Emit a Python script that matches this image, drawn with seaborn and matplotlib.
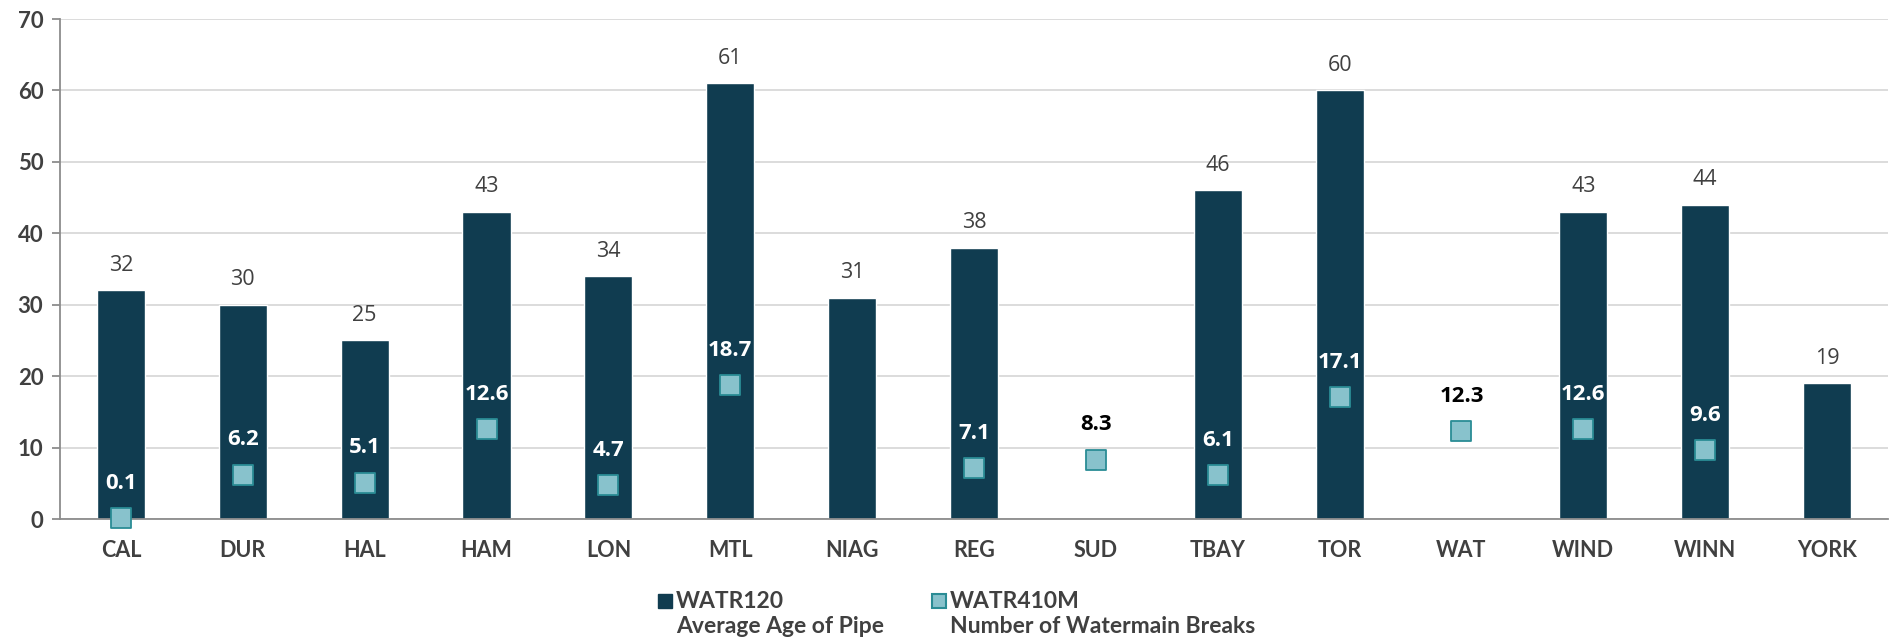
import numpy as np
import pandas as pd
import matplotlib
matplotlib.use("Agg")
import matplotlib.pyplot as plt
from matplotlib.lines import Line2D
import seaborn as sns

# Municipal water benchmarks
cities = ["CAL", "DUR", "HAL", "HAM", "LON", "MTL", "NIAG", "REG", "SUD",
          "TBAY", "TOR", "WAT", "WIND", "WINN", "YORK"]
avg_pipe_age = [32, 30, 25, 43, 34, 61, 31, 38, np.nan, 46, 60, np.nan, 43, 44, 19]
main_breaks = [0.1, 6.2, 5.1, 12.6, 4.7, 18.7, np.nan, 7.1, 8.3, 6.1, 17.1, 12.3,
               12.6, 9.6, np.nan]
y_ticks = [0, 10, 20, 30, 40, 50, 60, 70]
legend_codes = ["WATR120", "WATR410M"]
legend_names = ["Average Age of Pipe", "Number of Watermain Breaks"]

BAR = "#103C50"
MARK_FACE = "#88C2CC"
MARK_EDGE = "#2A8C95"
TEXT = "#404040"
GRID = "#D9D9D9"
AXIS = "#8C8C8C"

sns.set_theme(style="white")
plt.rcParams["font.family"] = ["Lato", "DejaVu Sans"]

df = pd.DataFrame({"city": cities, "age": avg_pipe_age, "breaks": main_breaks})

W, H = 1891, 639
fig = plt.figure(figsize=(W / 100, H / 100), dpi=100)
ax = fig.add_axes([60 / W, 1 - 519 / H, 1828 / W, 500 / H])

sns.barplot(data=df, x="city", y="age", color=BAR, width=0.395,
            saturation=1, ax=ax, order=cities, zorder=2)
sns.stripplot(data=df, x="city", y="breaks", order=cities, jitter=False,
              marker="s", size=14.5, color=MARK_FACE, edgecolor=MARK_EDGE,
              linewidth=1.3, ax=ax, zorder=4, clip_on=False)

ax.set_ylim(0, 70)
ax.set_xlim(-0.5, len(cities) - 0.5)
ax.set_yticks(y_ticks)
ax.set_xlabel("")
ax.set_ylabel("")
ax.grid(axis="y", color=GRID, linewidth=1.3, zorder=0)
ax.set_axisbelow(True)

for side in ["top", "right"]:
    ax.spines[side].set_visible(False)
for side in ["left", "bottom"]:
    ax.spines[side].set_color(AXIS)
    ax.spines[side].set_linewidth(1.3)

ax.tick_params(axis="y", which="major", left=True, length=6, width=1.3,
               color=AXIS, labelsize=16, labelcolor=TEXT, pad=6)
ax.tick_params(axis="x", which="major", bottom=False, labelsize=15.5,
               labelcolor=TEXT, pad=9)
for lbl in ax.get_xticklabels() + ax.get_yticklabels():
    lbl.set_fontweight("bold")

# value labels above bars
for i, v in enumerate(avg_pipe_age):
    if np.isnan(v):
        continue
    ax.annotate(f"{v:.0f}", xy=(i, v), xytext=(0, 18), textcoords="offset points",
                ha="center", va="center", fontsize=15.5, color=TEXT,
                fontfamily=["Open Sans", "DejaVu Sans"])

# value labels above break markers
for i, v in enumerate(main_breaks):
    if np.isnan(v):
        continue
    on_bar = not np.isnan(avg_pipe_age[i]) and avg_pipe_age[i] > v + 5
    ax.annotate(f"{v:.1f}", xy=(i, v), xytext=(0, 25), textcoords="offset points",
                ha="center", va="center", fontsize=16, fontweight="bold",
                color="white" if on_bar else "black",
                fontfamily=["Open Sans", "DejaVu Sans"], zorder=5)

# legend below the axis: key square beside a two-line caption
key_styles = [
    dict(markerfacecolor=BAR, markeredgecolor=BAR, markeredgewidth=1.0),
    dict(markerfacecolor=MARK_FACE, markeredgecolor=MARK_EDGE, markeredgewidth=1.5),
]
key_x = [665, 939]
for kx, code, name, style in zip(key_x, legend_codes, legend_names, key_styles):
    fig.add_artist(Line2D([kx / W], [1 - 601 / H], marker="s", markersize=10,
                          linestyle="none", transform=fig.transFigure, **style))
    fig.text((kx + 11) / W, 1 - 608 / H, code, ha="left", va="baseline",
             fontsize=16.5, fontweight="bold", color=TEXT)
    fig.text((kx + 11) / W, 1 - 633 / H, name, ha="left", va="baseline",
             fontsize=16.5, fontweight="bold", color=TEXT)

fig.savefig("out.png", dpi=100)
